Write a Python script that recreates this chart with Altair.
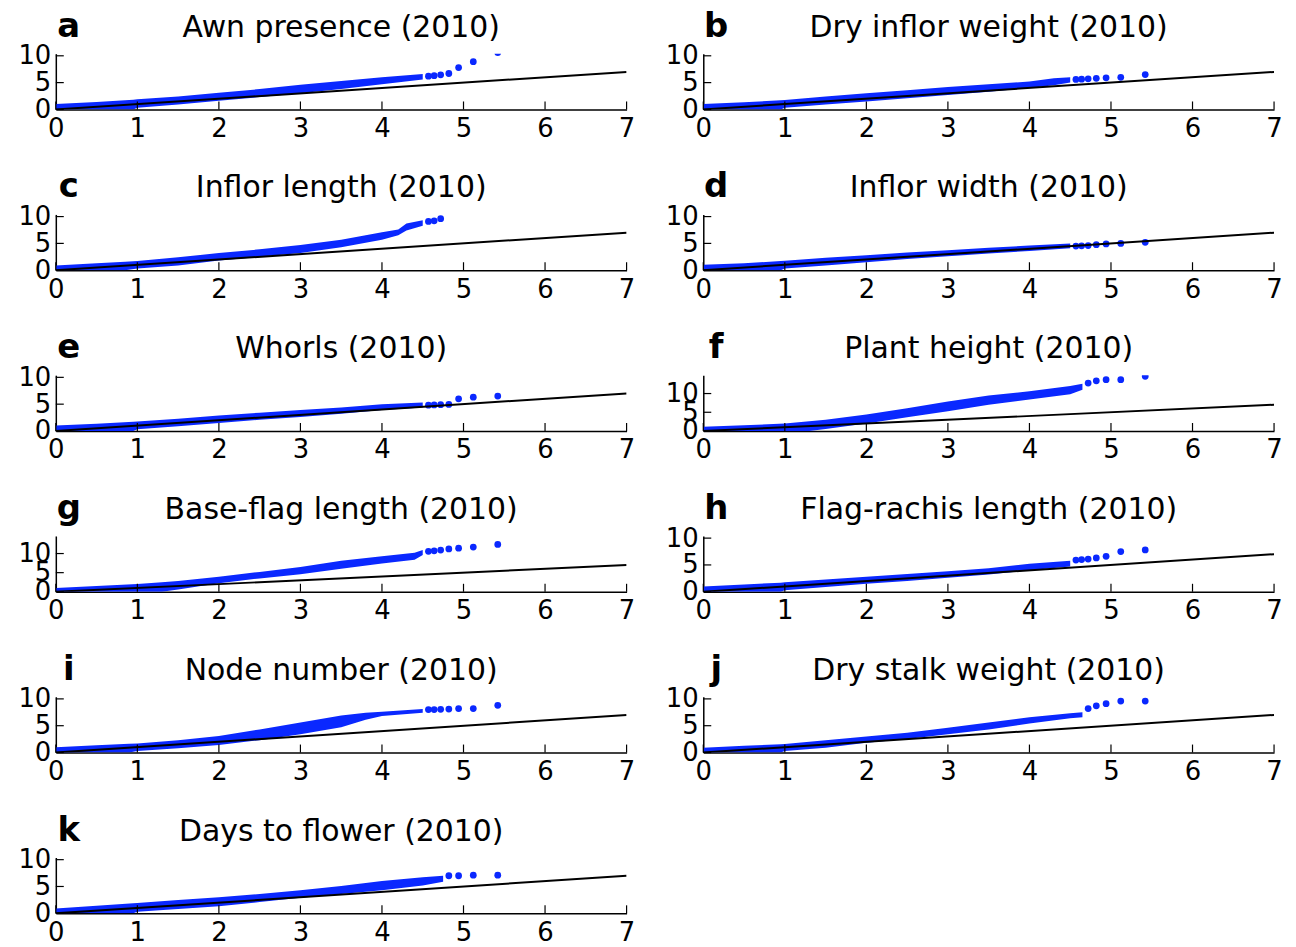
import altair as alt
import pandas as pd

LETTERS = ["a", "b", "c", "d", "e", "f", "g", "h", "i", "j", "k"]
TITLES = ["Awn presence (2010)", "Dry inflor weight (2010)", "Inflor length (2010)",
          "Inflor width (2010)", "Whorls (2010)", "Plant height (2010)",
          "Base-flag length (2010)", "Flag-rachis length (2010)", "Node number (2010)",
          "Dry stalk weight (2010)", "Days to flower (2010)"]
YTOP = [10.4, 10.4, 10.4, 10.4, 10.4, 14.9, 14.6, 10.4, 10.4, 10.4, 10.4]
XTICKS = [0, 1, 2, 3, 4, 5, 6, 7]
YTICKS = [0, 5, 10]
DIAG = [0, 7]

# dense band of points: expected -log10(p), upper / lower edge of observed
BX = [
    [0, 0.5, 0.95, 1.0, 1.5, 2.0, 2.5, 3.0, 3.5, 4.0, 4.5],
    [0, 0.5, 0.95, 1.0, 1.5, 2.0, 2.5, 3.0, 3.5, 4.0, 4.3, 4.5],
    [0, 0.5, 0.85, 1.0, 1.5, 2.0, 2.5, 3.0, 3.5, 4.0, 4.2, 4.3, 4.5],
    [0, 0.5, 0.95, 1.0, 1.5, 2.0, 2.5, 3.0, 3.5, 4.0, 4.5],
    [0, 0.5, 0.95, 1.0, 1.5, 2.0, 2.5, 3.0, 3.5, 4.0, 4.5],
    [0, 0.5, 1.0, 1.3, 1.5, 2.0, 2.5, 3.0, 3.5, 4.0, 4.5, 4.65],
    [0, 0.5, 1.0, 1.3, 1.5, 2.0, 2.5, 3.0, 3.5, 4.0, 4.4, 4.5],
    [0, 0.5, 0.95, 1.0, 1.5, 2.0, 2.5, 3.0, 3.5, 4.0, 4.5],
    [0, 0.5, 0.9, 1.0, 1.5, 2.0, 2.5, 3.0, 3.5, 3.8, 4.0, 4.5],
    [0, 0.5, 0.95, 1.0, 1.5, 2.0, 2.5, 3.0, 3.5, 4.0, 4.5, 4.65],
    [0, 0.5, 0.95, 1.0, 1.5, 2.0, 2.5, 3.0, 3.5, 4.0, 4.5, 4.75],
]
BHI = [
    [1.0, 1.4, 1.8, 1.9, 2.4, 3.1, 3.8, 4.6, 5.3, 6.0, 6.6],
    [1.0, 1.35, 1.7, 1.75, 2.4, 3.0, 3.6, 4.2, 4.7, 5.2, 5.8, 6.0],
    [0.9, 1.3, 1.6, 1.7, 2.4, 3.2, 3.9, 4.7, 5.7, 7.1, 7.6, 8.7, 9.3],
    [1.0, 1.3, 1.7, 1.75, 2.3, 2.8, 3.3, 3.7, 4.2, 4.6, 5.0],
    [1.0, 1.35, 1.7, 1.75, 2.3, 2.9, 3.4, 3.9, 4.4, 5.0, 5.3],
    [1.1, 1.5, 2.0, 2.6, 3.0, 4.4, 6.1, 7.9, 9.5, 10.6, 12.0, 12.6],
    [1.0, 1.5, 2.0, 2.5, 2.8, 3.9, 5.2, 6.5, 8.1, 9.3, 10.2, 10.9],
    [1.0, 1.35, 1.7, 1.75, 2.3, 2.8, 3.3, 3.8, 4.4, 5.2, 5.8],
    [1.0, 1.35, 1.65, 1.7, 2.3, 3.1, 4.3, 5.6, 6.9, 7.4, 7.6, 8.1],
    [0.9, 1.25, 1.55, 1.6, 2.3, 3.0, 3.7, 4.6, 5.6, 6.6, 7.3, 7.5],
    [0.9, 1.4, 1.85, 1.9, 2.5, 3.0, 3.6, 4.3, 5.1, 6.0, 6.7, 7.0],
]
BLO = [
    [0, 0, 0, 0.3, 0.9, 1.6, 2.3, 3.0, 3.8, 4.7, 5.6],
    [0, 0, 0, 0.3, 0.9, 1.5, 2.1, 2.7, 3.3, 4.0, 4.5, 5.0],
    [0, 0, 0, 0.3, 0.9, 1.8, 2.5, 3.2, 4.3, 5.7, 6.5, 7.4, 8.3],
    [0, 0, 0, 0.3, 0.9, 1.5, 2.1, 2.6, 3.1, 3.6, 4.1],
    [0, 0, 0, 0.3, 0.9, 1.5, 2.1, 2.6, 3.2, 3.9, 4.4],
    [0, 0, 0, 0, 0.5, 2.0, 3.7, 5.3, 7.0, 8.4, 9.8, 11.0],
    [0, 0, 0, 0, 0.6, 2.2, 3.5, 4.6, 6.0, 7.4, 8.4, 9.6],
    [0, 0, 0, 0.3, 0.9, 1.5, 2.0, 2.6, 3.2, 4.0, 4.7],
    [0, 0, 0, 0.3, 0.8, 1.4, 2.3, 3.4, 4.7, 6.1, 6.8, 7.4],
    [0, 0, 0, 0.3, 0.9, 1.8, 2.5, 3.4, 4.3, 5.4, 6.4, 6.6],
    [0, 0, 0, 0.3, 0.8, 1.3, 2.1, 2.9, 3.6, 4.3, 5.2, 5.9],
]
# sparse tail points
TX = [
    [4.57, 4.64, 4.72, 4.82, 4.94, 5.12, 5.42],
    [4.57, 4.64, 4.72, 4.82, 4.94, 5.12, 5.42],
    [4.57, 4.64, 4.72],
    [4.57, 4.64, 4.72, 4.82, 4.94, 5.12, 5.42],
    [4.57, 4.64, 4.72, 4.82, 4.94, 5.12, 5.42],
    [4.72, 4.82, 4.94, 5.12, 5.42],
    [4.57, 4.64, 4.72, 4.82, 4.94, 5.12, 5.42],
    [4.57, 4.64, 4.72, 4.82, 4.94, 5.12, 5.42],
    [4.57, 4.64, 4.72, 4.82, 4.94, 5.12, 5.42],
    [4.72, 4.82, 4.94, 5.12, 5.42],
    [4.82, 4.94, 5.12, 5.42],
]
TY = [
    [6.2, 6.3, 6.45, 6.7, 7.8, 8.9, 10.6],
    [5.6, 5.65, 5.7, 5.8, 5.9, 6.0, 6.5],
    [9.1, 9.2, 9.6],
    [4.5, 4.55, 4.6, 4.75, 4.9, 5.0, 5.2],
    [4.8, 4.85, 4.9, 4.95, 6.0, 6.3, 6.5],
    [12.8, 13.4, 13.7, 13.7, 14.6],
    [10.6, 10.7, 10.9, 11.2, 11.4, 11.7, 12.4],
    [5.9, 6.0, 6.1, 6.3, 6.6, 7.5, 7.8],
    [8.0, 8.0, 8.05, 8.1, 8.2, 8.2, 8.8],
    [8.2, 8.7, 9.1, 9.6, 9.6],
    [7.0, 7.0, 7.1, 7.1],
]

W, H = 573, 56
BLUE = "#0a28ff"
FONT = "DejaVu Sans"


def panel(i):
    xs = alt.Scale(domain=[0, 7], nice=False, zero=False)
    ys = alt.Scale(domain=[0, YTOP[i]], nice=False, zero=False)
    xax = alt.Axis(values=XTICKS, ticks=False, grid=False, labelFlush=False,
                   labelFontSize=26, labelFont=FONT, labelColor="black",
                   labelPadding=6, domainColor="black", domainWidth=1.5,
                   format="d", labelOverlap=False, title=None)
    yax = alt.Axis(values=YTICKS, ticks=False, grid=False, labelFlush=False,
                   labelFontSize=26, labelFont=FONT, labelColor="black",
                   labelPadding=5, domainColor="black", domainWidth=1.5,
                   format="d", labelOverlap=False, title=None)
    X = lambda f: alt.X(f, scale=xs, axis=xax)
    Y = lambda f: alt.Y(f, scale=ys, axis=yax)
    band = pd.DataFrame({"x": BX[i], "hi": BHI[i], "lo": BLO[i]})
    tail = pd.DataFrame({"x": TX[i], "y": TY[i]})
    diag = pd.DataFrame({"x": DIAG, "y": DIAG})
    area = alt.Chart(band).mark_area(color=BLUE, clip=True, opacity=1).encode(
        x=X("x:Q"), y=Y("hi:Q"), y2="lo:Q")
    pts = alt.Chart(tail).mark_circle(color=BLUE, size=46, opacity=1, clip=True).encode(
        x=X("x:Q"), y=Y("y:Q"))
    line = alt.Chart(diag).mark_line(color="black", strokeWidth=2, clip=True).encode(
        x=X("x:Q"), y=Y("y:Q"))
    xt = alt.Chart(pd.DataFrame({"t": XTICKS})).mark_rule(color="black", strokeWidth=1.2).encode(
        x=X("t:Q"), y=alt.value(H), y2=alt.value(H - 8))
    yt = alt.Chart(pd.DataFrame({"t": YTICKS})).mark_rule(color="black", strokeWidth=1.2).encode(
        y=Y("t:Q"), x=alt.value(0), x2=alt.value(8))
    let = alt.Chart(pd.DataFrame({"t": [LETTERS[i]]})).mark_text(
        font=FONT, fontSize=34, fontWeight="bold", color="black", align="center",
        baseline="alphabetic").encode(text="t:N", x=alt.value(13), y=alt.value(-17))
    ttl = alt.Chart(pd.DataFrame({"t": [TITLES[i]]})).mark_text(
        font=FONT, fontSize=30, color="black", align="center",
        baseline="alphabetic").encode(text="t:N", x=alt.value(W / 2), y=alt.value(-17))
    return alt.layer(area, pts, line, xt, yt, let, ttl).properties(width=W, height=H)


charts = [panel(i) for i in range(len(TITLES))]
chart = alt.concat(*charts, columns=2, spacing=alt.RowColnumber(row=105.4, column=77),
                   bounds="flush").properties(
    padding={"left": 9, "top": 0, "right": 5, "bottom": 0}, background="white"
).configure_view(stroke="transparent", strokeWidth=0)

chart.save("out.html", embed_options={"renderer": "svg", "actions": False})
